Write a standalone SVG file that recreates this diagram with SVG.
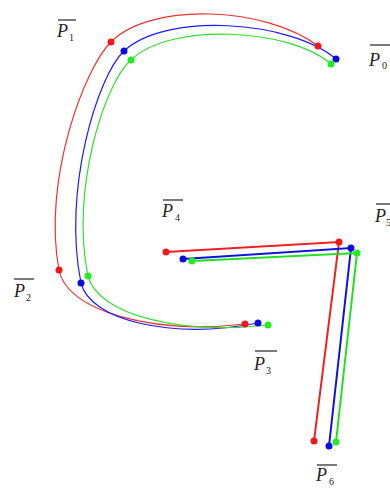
<svg xmlns="http://www.w3.org/2000/svg" width="390" height="494" viewBox="0 0 390 494">
<style>
.lbl{font-family:"Liberation Serif","Times New Roman",serif;font-style:italic;font-size:18px;fill:#222}
.sub{font-family:"Liberation Serif","Times New Roman",serif;font-size:10px;fill:#222}
.bar{stroke:#222;stroke-width:1.2}
.cr{fill:none;stroke:#f03030;stroke-width:1.2}
.cb{fill:none;stroke:#1a1aff;stroke-width:1.2}
.cg{fill:none;stroke:#30e030;stroke-width:1.2}
.lr{fill:none;stroke:#f02020;stroke-width:2}
.lb{fill:none;stroke:#1010e0;stroke-width:2}
.lg{fill:none;stroke:#20e020;stroke-width:2}
.dr{fill:#f01818}.db{fill:#0a0ae0}.dg{fill:#20ee20}
</style>
<rect width="390" height="494" fill="#fff"/>
<g id="connectors">
<path class="cr" d="M318,46 C265,6 150,2 111,42 C85,67 42,180 59,270 C66,310 150,335 245,324"/>
<path class="cb" d="M336,59 C290,20 165,12 124,51 C98,75 62,190 81,283 C90,320 170,340 258,323"/>
<path class="cg" d="M331,64 C290,28 170,22 131,60 C105,82 70,190 88,276 C98,315 180,335 268,325"/>
<polyline class="lr" points="166,252 339,242 314,441"/>
<polyline class="lb" points="183,259 351,248 329,446"/>
<polyline class="lg" points="192,261 357,253 336,442"/>
</g>
<g id="points">
<circle class="dr" cx="318" cy="46" r="3.5"/><circle class="db" cx="336" cy="59" r="3.5"/><circle class="dg" cx="331" cy="64" r="3.5"/>
<circle class="dr" cx="111" cy="42" r="3.5"/><circle class="db" cx="124" cy="51" r="3.5"/><circle class="dg" cx="131" cy="60" r="3.5"/>
<circle class="dr" cx="59" cy="270" r="3.5"/><circle class="db" cx="81" cy="283" r="3.5"/><circle class="dg" cx="88" cy="276" r="3.5"/>
<circle class="dr" cx="245" cy="324" r="3.5"/><circle class="db" cx="258" cy="323" r="3.5"/><circle class="dg" cx="268" cy="325" r="3.5"/>
<circle class="dr" cx="166" cy="252" r="3.5"/><circle class="db" cx="183" cy="259" r="3.5"/><circle class="dg" cx="192" cy="261" r="3.5"/>
<circle class="dr" cx="339" cy="242" r="3.5"/><circle class="db" cx="351" cy="248" r="3.5"/><circle class="dg" cx="357" cy="253" r="3.5"/>
<circle class="dr" cx="314" cy="441" r="3.5"/><circle class="db" cx="329" cy="446" r="3.5"/><circle class="dg" cx="336" cy="442" r="3.5"/>
</g>
<g id="P0"><line class="bar" x1="370" y1="45" x2="390" y2="45"/><text class="lbl" x="369" y="66">P</text><text class="sub" x="382" y="69">0</text></g>
<g id="P1"><line class="bar" x1="58" y1="20" x2="76" y2="20"/><text class="lbl" x="57" y="37">P</text><text class="sub" x="69" y="41">1</text></g>
<g id="P2"><line class="bar" x1="14" y1="279" x2="34" y2="279"/><text class="lbl" x="14" y="297">P</text><text class="sub" x="26" y="301">2</text></g>
<g id="P3"><line class="bar" x1="255" y1="351" x2="277" y2="351"/><text class="lbl" x="254" y="370">P</text><text class="sub" x="266" y="374">3</text></g>
<g id="P4"><line class="bar" x1="163" y1="200" x2="183" y2="200"/><text class="lbl" x="162" y="217">P</text><text class="sub" x="175" y="221">4</text></g>
<g id="P5"><line class="bar" x1="376" y1="204" x2="390" y2="204"/><text class="lbl" x="375" y="222">P</text><text class="sub" x="386" y="226">5</text></g>
<g id="P6"><line class="bar" x1="317" y1="465" x2="337" y2="465"/><text class="lbl" x="316" y="481">P</text><text class="sub" x="329" y="485">6</text></g>
</svg>
